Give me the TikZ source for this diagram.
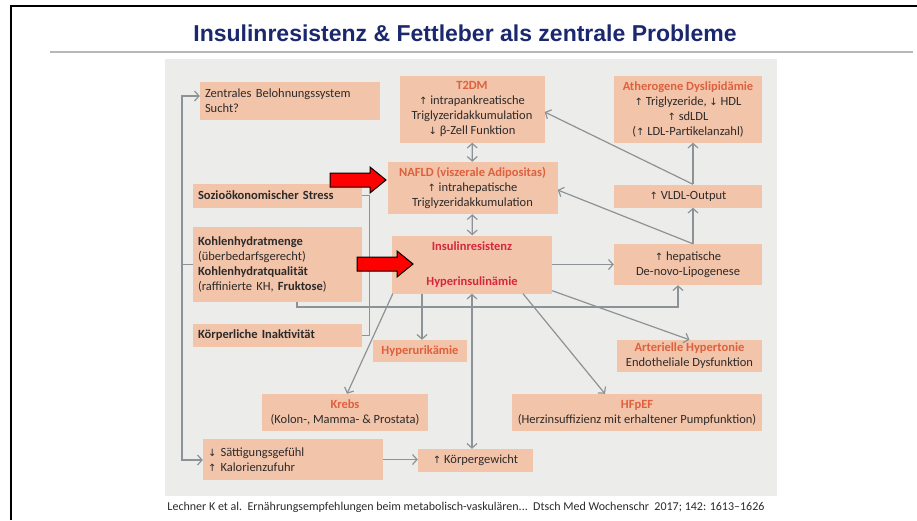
\documentclass[tikz,border=0pt]{standalone}
\usepackage{fontspec}
\setmainfont{Carlito}
\newfontfamily\titlefont{Liberation Sans}
\newfontfamily\arrowfont[Scale=0.8]{DejaVu Sans}
\usepackage{xcolor}
\usetikzlibrary{arrows.meta}

\definecolor{boxc}{RGB}{242,196,170}
\definecolor{bgc}{RGB}{236,237,234}
\definecolor{linec}{RGB}{140,146,150}
\definecolor{txtc}{RGB}{45,42,42}
\definecolor{orangec}{RGB}{222,96,62}
\definecolor{redc}{RGB}{214,38,60}
\definecolor{navyc}{RGB}{28,40,110}

\newcommand{\hoch}{{\arrowfont ↑}}
\newcommand{\runter}{{\arrowfont ↓}}
\newcommand{\hd}[1]{\textcolor{orangec}{\textbf{#1}}}
\newcommand{\rd}[1]{\textcolor{redc}{\textbf{#1}}}

\begin{document}
\begin{tikzpicture}[x=1pt,y=-1pt,
		box/.style={fill=boxc, text=txtc, font=\fontsize{12.5}{15}\selectfont, inner xsep=5pt, inner ysep=0pt, align=center},
		conn/.style={draw=linec, line width=1.2pt, >={Straight Barb[length=4.5pt,width=10pt]}},
		redarr/.style={fill=red, draw=black, line width=1pt, line join=miter}]
		\useasboundingbox (0,0) rectangle (917,520);
		\fill[white] (0,0) rectangle (917,520);
		\draw[line width=2.5pt] (11,520) -- (11,6) -- (917,6);
		\draw[black!28, line width=2pt] (50,52) -- (913,52);
		\node[font=\titlefont\bfseries\fontsize{23}{27}\selectfont, text=navyc] (Titel) at (465,33) {Insulinresistenz \& Fettleber als zentrale Probleme};
		\fill[bgc] (165,59) rectangle (777,496);

		\node[box, minimum width=180pt, minimum height=38pt, text width=170pt, align=left] (Zent) at (290,101) {Zentrales Belohnungssystem\\Sucht?};
		\node[box, minimum width=145pt, minimum height=67pt] (T2dm) at (472,109) {\hd{T2DM}\\\hoch{} intrapankreatische\\Triglyzeridakkumulation\\\runter{} β-Zell Funktion};
		\node[box, minimum width=148pt, minimum height=67pt] (Athero) at (688,109) {\hd{Atherogene Dyslipidämie}\\\hoch{} Triglyzeride, \runter{} HDL\\\hoch{} sdLDL\\(\hoch{} LDL-Partikelanzahl)};
		\node[box, minimum width=170pt, minimum height=52pt] (Nafld) at (472.5,188) {\hd{NAFLD (viszerale Adipositas)}\\\hoch{} intrahepatische\\Triglyzeridakkumulation};
		\node[box, minimum width=169pt, minimum height=24pt, text width=159pt, align=left] (Stress) at (277.5,195.5) {\textbf{Sozioökonomischer Stress}};
		\node[box, minimum width=148pt, minimum height=23pt] (Vldl) at (688,196) {\hoch{} VLDL-Output};
		\node[box, minimum width=169pt, minimum height=75pt, text width=159pt, align=left] (Kh) at (277.5,264.5) {\textbf{Kohlenhydratmenge}\\(überbedarfsgerecht)\\\textbf{Kohlenhydratqualität}\\(raffinierte KH, \textbf{Fruktose})};
		\node[box, minimum width=160pt, minimum height=58pt] (Insulin) at (472,264.5) {\rd{Insulinresistenz}\\[20pt]\rd{Hyperinsulinämie}};
		\node[box, minimum width=148pt, minimum height=41pt] (Hep) at (688,264.5) {\hoch{} hepatische\\De-novo-Lipogenese};
		\node[box, minimum width=169pt, minimum height=23pt, text width=159pt, align=left] (Inakt) at (277.5,335.5) {\textbf{Körperliche Inaktivität}};
		\node[box, minimum width=94pt, minimum height=22pt] (Uric) at (420,351) {\hd{Hyperurikämie}};
		\node[box, minimum width=145pt, minimum height=32pt] (Hyper) at (689.5,356) {\hd{Arterielle Hypertonie}\\Endotheliale Dysfunktion};
		\node[box, minimum width=166pt, minimum height=37pt] (Krebs) at (345,412.5) {\hd{Krebs}\\(Kolon-, Mamma- \& Prostata)};
		\node[box, minimum width=250pt, minimum height=37pt] (Hfpef) at (637,412.5) {\hd{HFpEF}\\(Herzinsuffizienz mit erhaltener Pumpfunktion)};
		\node[box, minimum width=180pt, minimum height=41pt, text width=170pt, align=left] (Satt) at (293,459.5) {\runter{} Sättigungsgefühl\\\hoch{} Kalorienzufuhr};
		\node[box, minimum width=115pt, minimum height=23pt] (Kg) at (475.5,460.5) {\hoch{} Körpergewicht};

		\coordinate (Lo) at (182,96);
		\coordinate (Lu) at (182,460);
		\coordinate (Fr) at (297,307);
		\draw[conn,->] (Kh.west) -| (Lo) -- (Lo -| Zent.west);
		\draw[conn,->] (Kh.west) -| (Lu) -- (Lu -| Satt.west);
		\draw[conn] (Stress.east) -- ++(7,0) |- (Inakt.east);
		\draw[conn,->] (Fr |- Kh.south) -- (Fr) -| ([xshift=-10pt]Hep.south);
		\draw[conn,<->] (T2dm) -- (Nafld);
		\draw[conn,<->] (Nafld) -- (Insulin);
		\draw[conn,->] (Insulin.east) -- (Hep.west);
		\draw[conn,->] ([xshift=5pt]Hep.north) -- ([xshift=5pt]Vldl.south);
		\draw[conn,->] ([xshift=5pt]Vldl.north) -- ([xshift=5pt]Athero.south);
		\draw[conn,->] ([xshift=5pt]Vldl.north) -- ([yshift=-3pt]T2dm.east);
		\draw[conn,->] ([xshift=5pt]Hep.north) -- ([yshift=-2pt]Nafld.east);
		\draw[conn,->] ([xshift=1pt]Insulin.south west) -- ([xshift=2pt]Krebs.north);
		\draw[conn,->] ([xshift=2pt]Uric.north |- Insulin.south) -- ([xshift=2pt]Uric.north);
		\draw[conn,<->] (Insulin.south) -- (Insulin.south |- Kg.north);
		\draw[conn,->] ([xshift=51pt]Insulin.south) -- ([xshift=-32pt]Hfpef.north);
		\draw[conn,->] ([yshift=3pt]Insulin.south east) -- (Hyper.north);
		\draw[conn,->] (Satt.east) -- (Satt.east -| Kg.west);

		\foreach \tx/\ty in {386/180, 413/264}{
			\draw[redarr] (\tx,\ty) -- ++(-16,-13) -- ++(0,6) -- ++(-40,0) -- ++(0,14) -- ++(40,0) -- ++(0,6) -- cycle;
		}

		\node[font=\fontsize{12}{14}\selectfont, text=txtc] (Zitat) at (466,507) {Lechner K et al.\ \ Ernährungsempfehlungen beim metabolisch-vaskulären...\ \ Dtsch Med Wochenschr\ \ 2017; 142: 1613–1626};
\end{tikzpicture}
\end{document}
